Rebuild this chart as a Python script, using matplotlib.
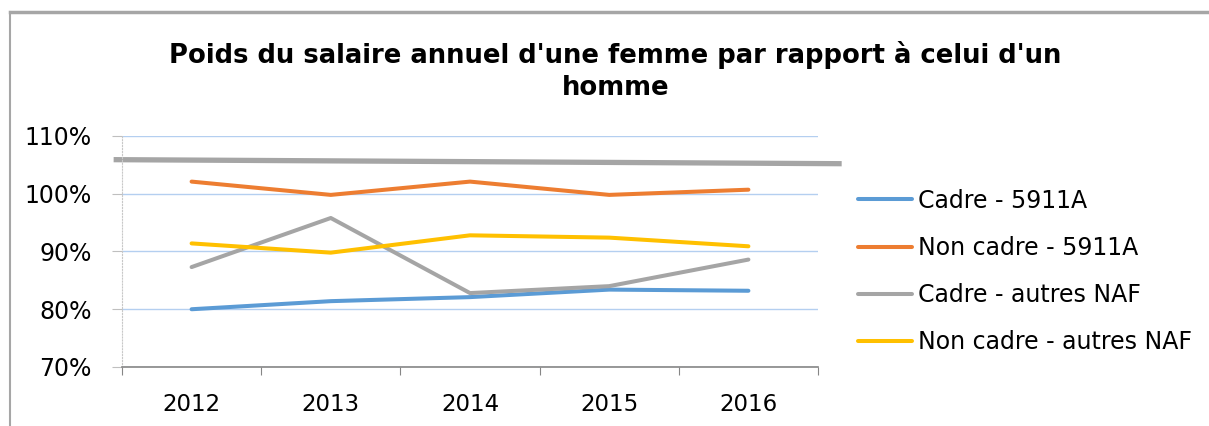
import matplotlib.pyplot as plt
from matplotlib.lines import Line2D

years = ['2012', '2013', '2014', '2015', '2016']
cadre_5911a = [80.0, 81.4, 82.1, 83.4, 83.2]
non_cadre_5911a = [102.1, 99.8, 102.1, 99.8, 100.7]
cadre_autres = [87.3, 95.8, 82.8, 84.0, 88.6]
non_cadre_autres = [91.4, 89.8, 92.8, 92.4, 90.9]
series_labels = ['Cadre - 5911A', 'Non cadre - 5911A', 'Cadre - autres NAF', 'Non cadre - autres NAF']
colors = ['#5b9bd5', '#ed7d31', '#a5a5a5', '#ffc000']

# stray grey bar drawn across the chart in the original
ref_x = [-0.56, 4.67]
ref_y = [105.9, 105.2]

fig = plt.figure(figsize=(12.09, 4.26), dpi=100)
ax = fig.add_axes([0.1009, 0.1385, 0.5757, 0.5423])

x = range(len(years))
for vals, lab, c in zip([cadre_5911a, non_cadre_5911a, cadre_autres, non_cadre_autres], series_labels, colors):
    ax.plot(x, vals, color=c, lw=2.9, label=lab, solid_capstyle='round')

ax.plot(ref_x, ref_y, color='#a5a5a5', lw=3.8, clip_on=False, solid_capstyle='butt')

ax.set_xlim(-0.5, 4.5)
ax.set_ylim(70, 110)
ax.set_yticks([70, 80, 90, 100, 110])
ax.set_yticklabels(['70%', '80%', '90%', '100%', '110%'], fontsize=17)
ax.set_xticks([i - 0.5 for i in range(6)])
ax.set_xticklabels([])
ax.set_xticks(list(x), minor=True)
ax.set_xticklabels(years, minor=True, fontsize=16.5)
ax.tick_params(axis='x', which='major', length=6, color='#868686', direction='out')
ax.tick_params(axis='x', which='minor', length=0, pad=19)
ax.tick_params(axis='y', length=7, color='#bfbfbf', pad=15)
ax.grid(axis='y', color='#b4cff0', lw=1)
for sp in ['top', 'right']:
    ax.spines[sp].set_visible(False)
ax.spines['left'].set_color('#c8c8c8')
ax.spines['left'].set_linestyle(':')
ax.spines['bottom'].set_color('#868686')
ax.spines['bottom'].set_linewidth(1.2)
ax.set_axisbelow(True)

fig.text(0.509, 0.833, "Poids du salaire annuel d'une femme par rapport à celui d'un\nhomme",
         ha='center', va='center', fontsize=18.6, fontweight='bold', linespacing=1.28)

ax.legend(loc='upper left', bbox_to_anchor=(0.7097, 0.557), bbox_transform=fig.transFigure,
          frameon=False, fontsize=17, handlelength=2.3, handletextpad=0.25, labelspacing=0.98,
          borderaxespad=0, borderpad=0)

# outer frame (top and left edges)
fig.add_artist(Line2D([0.008, 1.0], [0.972, 0.972], color='#a6a6a6', lw=2.5))
fig.add_artist(Line2D([0.008, 0.008], [0.0, 0.972], color='#a6a6a6', lw=1.5))

fig.savefig('out.png', dpi=100)
